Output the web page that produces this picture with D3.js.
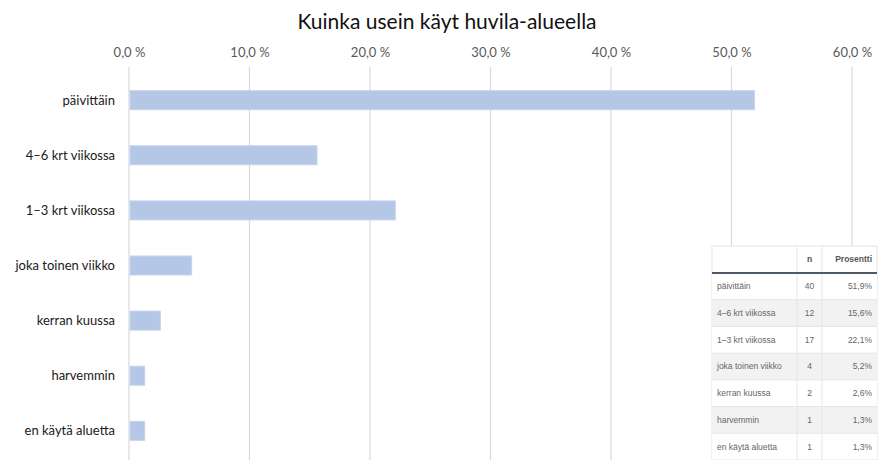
<!DOCTYPE html>
<html><head><meta charset="utf-8">
<script src="https://cdn.jsdelivr.net/npm/d3@7"></script>
<style>body{margin:0;background:#fff}svg{display:block}</style>
</head><body>
<svg id="c" width="879" height="460"></svg>
<script>
const categories = ["päivittäin","4–6 krt viikossa","1–3 krt viikossa","joka toinen viikko","kerran kuussa","harvemmin","en käytä aluetta"];
const percents = [51.9,15.6,22.1,5.2,2.6,1.3,1.3];
const counts = [40,12,17,4,2,1,1];
const pctLabels = ["51,9%","15,6%","22,1%","5,2%","2,6%","1,3%","1,3%"];
const ticks = [0,10,20,30,40,50,60];
const tableHeader = ["","n","Prosentti"];
const title = "Kuinka usein käyt huvila-alueella";

const svg = d3.select("#c");
const x = d3.scaleLinear().domain([0,60]).range([129,852]);
const y = d3.scaleBand().domain(categories).range([72.5,458.5]).paddingInner(0.655).paddingOuter(0.33);

svg.append("text").attr("x",447).attr("y",29).attr("text-anchor","middle")
  .attr("font-family","Lato, 'Open Sans', sans-serif").attr("font-size",21).attr("fill","#111").text(title);

// gridlines
svg.append("g").selectAll("line").data(ticks).join("line")
  .attr("x1",d=>x(d)).attr("x2",d=>x(d)).attr("y1",67).attr("y2",460)
  .attr("stroke","#d9d9d9").attr("stroke-width",1.2);

// top axis labels
const ax = d3.axisTop(x).tickValues(ticks).tickSize(0).tickPadding(0)
  .tickFormat(d=>d3.format(".1f")(d).replace(".",",")+" %");
const g = svg.append("g").attr("transform","translate(0,57)").call(ax);
g.select(".domain").remove();
g.selectAll("text").attr("font-family","Lato, 'Open Sans', sans-serif").attr("font-size",13).attr("fill","#595959");

// bars
svg.append("g").selectAll("rect").data(categories).join("rect")
  .attr("x",x(0)+1).attr("y",d=>y(d)).attr("height",y.bandwidth())
  .attr("width",(d,i)=>x(percents[i])-x(0)-1)
  .attr("fill","#b4c7e7").attr("stroke","#c5d4ee").attr("stroke-width",1);

// category labels
svg.append("g").selectAll("text").data(categories).join("text")
  .attr("x",115).attr("y",d=>y(d)+y.bandwidth()/2).attr("dy","0.35em")
  .attr("text-anchor","end").attr("font-family","Lato, 'Open Sans', sans-serif")
  .attr("font-size",13).attr("fill","#1a1a1a").text(d=>d);

// table
const tx = [712,797,822,877];
const rowY = d3.scaleBand().domain(d3.range(categories.length)).range([273,460]);
const tg = svg.append("g").attr("font-family","'Liberation Sans', Arial, sans-serif").attr("font-size",8.5);
tg.append("rect").attr("x",tx[0]).attr("y",246).attr("width",tx[3]-tx[0]).attr("height",214)
  .attr("fill","#fff").attr("stroke","#e3e3e3");
tg.selectAll("rect.row").data(categories).join("rect").attr("class","row")
  .attr("x",tx[0]).attr("y",(d,i)=>rowY(i)).attr("width",tx[3]-tx[0]).attr("height",rowY.bandwidth())
  .attr("fill",(d,i)=>i%2===1?"#f2f2f2":"#fff");
tg.selectAll("line.h").data(categories).join("line").attr("class","h")
  .attr("x1",tx[0]).attr("x2",tx[3]).attr("y1",(d,i)=>rowY(i)+rowY.bandwidth()).attr("y2",(d,i)=>rowY(i)+rowY.bandwidth())
  .attr("stroke","#e6e6e6");
tg.selectAll("line.v").data([tx[1],tx[2]]).join("line").attr("class","v")
  .attr("x1",d=>d).attr("x2",d=>d).attr("y1",246).attr("y2",460).attr("stroke","#e6e6e6");
tg.append("line").attr("x1",tx[0]).attr("x2",tx[3]).attr("y1",273).attr("y2",273)
  .attr("stroke","#4c5b66").attr("stroke-width",2);
// header
tg.append("text").attr("x",(tx[1]+tx[2])/2).attr("y",262).attr("text-anchor","middle")
  .attr("font-weight","bold").attr("fill","#555").text(tableHeader[1]);
tg.append("text").attr("x",tx[3]-5).attr("y",262).attr("text-anchor","end")
  .attr("font-weight","bold").attr("fill","#555").text(tableHeader[2]);
// rows
tg.selectAll("text.c").data(categories).join("text").attr("class","c")
  .attr("x",tx[0]+5).attr("y",(d,i)=>rowY(i)+rowY.bandwidth()/2).attr("dy","0.35em")
  .attr("fill","#666").text(d=>d);
tg.selectAll("text.n").data(counts).join("text").attr("class","n")
  .attr("x",(tx[1]+tx[2])/2).attr("y",(d,i)=>rowY(i)+rowY.bandwidth()/2).attr("dy","0.35em")
  .attr("text-anchor","middle").attr("fill","#666").text(d=>d);
tg.selectAll("text.p").data(pctLabels).join("text").attr("class","p")
  .attr("x",tx[3]-5).attr("y",(d,i)=>rowY(i)+rowY.bandwidth()/2).attr("dy","0.35em")
  .attr("text-anchor","end").attr("fill","#666").text(d=>d);
</script>
</body></html>
